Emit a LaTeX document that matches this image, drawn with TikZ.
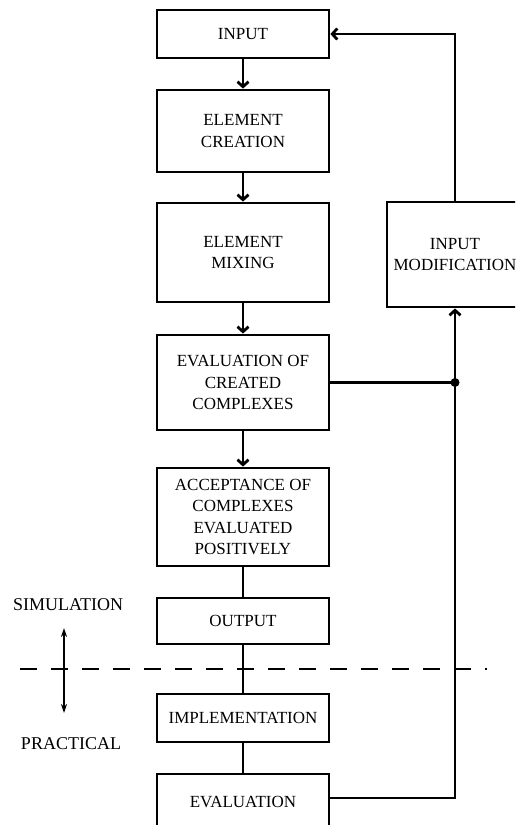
\documentclass[tikz,border=0pt]{standalone}
\usepackage{fontspec}
\setmainfont{Liberation Serif}
\usetikzlibrary{arrows.meta}

\tikzset{
	procbox/.style={draw,line width=2.8pt,minimum width=172pt,inner sep=0pt,align=center,font=\fontsize{17}{21.5}\selectfont},
	flowline/.style={line width=2.8pt},
	flowarrow/.style={line width=2.8pt,-{Straight Barb[length=5pt,width=11pt]}},
	sidelabel/.style={font=\fontsize{18}{21}\selectfont}
}

\begin{document}
\begin{tikzpicture}[x=1pt,y=-1pt]
		\useasboundingbox (0,0) rectangle (515,825);
		\clip (0,0) rectangle (515,825);
		\def\jr{4.5pt}
		% main column
		\node [procbox,minimum height=48pt] (input) at (243,34) {INPUT};
		\node [procbox,minimum height=82pt] (creation) at (243,131) {ELEMENT\\CREATION};
		\node [procbox,minimum height=99pt] (mixing) at (243,252.5) {ELEMENT\\MIXING};
		\node [procbox,minimum height=95pt] (evalcreated) at (243,382.5) {EVALUATION OF\\CREATED\\COMPLEXES};
		\node [procbox,minimum height=98pt] (accept) at (243,517) {ACCEPTANCE OF\\COMPLEXES\\EVALUATED\\POSITIVELY};
		\node [procbox,minimum height=46pt] (output) at (243,621) {OUTPUT};
		\node [procbox,minimum height=48pt] (impl) at (243,718) {IMPLEMENTATION};
		\node [procbox,minimum height=56pt] (evaluation) at (243,802) {EVALUATION};
		\node [procbox,minimum width=136pt,minimum height=105pt] (modif) at (455,254.5) {INPUT\\MODIFICATION};
		\draw [flowarrow] (input) -- (creation);
		\draw [flowarrow] (creation) -- (mixing);
		\draw [flowarrow] (mixing) -- (evalcreated);
		\draw [flowarrow] (evalcreated) -- (accept);
		\draw [flowline] (accept) -- (output);
		\draw [flowline] (output) -- (impl);
		\draw [flowline] (impl) -- (evaluation);
		% feedback loop
		\coordinate (junc) at (455,382.5);
		\draw [flowline] (evalcreated.east) -- (junc);
		\fill (junc) circle (\jr);
		\draw [flowarrow] ([yshift=4pt]evaluation.east) -| (modif.south);
		\draw [flowarrow] (modif.north) |- (input.east);
		% simulation / practical split
		\coordinate (dl) at (20,669);
		\coordinate (dr) at (487,669);
		\draw [line width=1.8pt,dash pattern=on 17pt off 14pt] (dl) -- (dr);
		\coordinate (simtop) at (64,628);
		\coordinate (pracbot) at (64,713);
		\draw [line width=1.6pt,{Stealth[length=9pt,width=6pt]}-{Stealth[length=9pt,width=6pt]}] (simtop) -- (pracbot);
		\node [sidelabel] (sim) at (68,605) {SIMULATION};
		\node [sidelabel] (prac) at (71,744) {PRACTICAL};
	\end{tikzpicture}
\end{document}
